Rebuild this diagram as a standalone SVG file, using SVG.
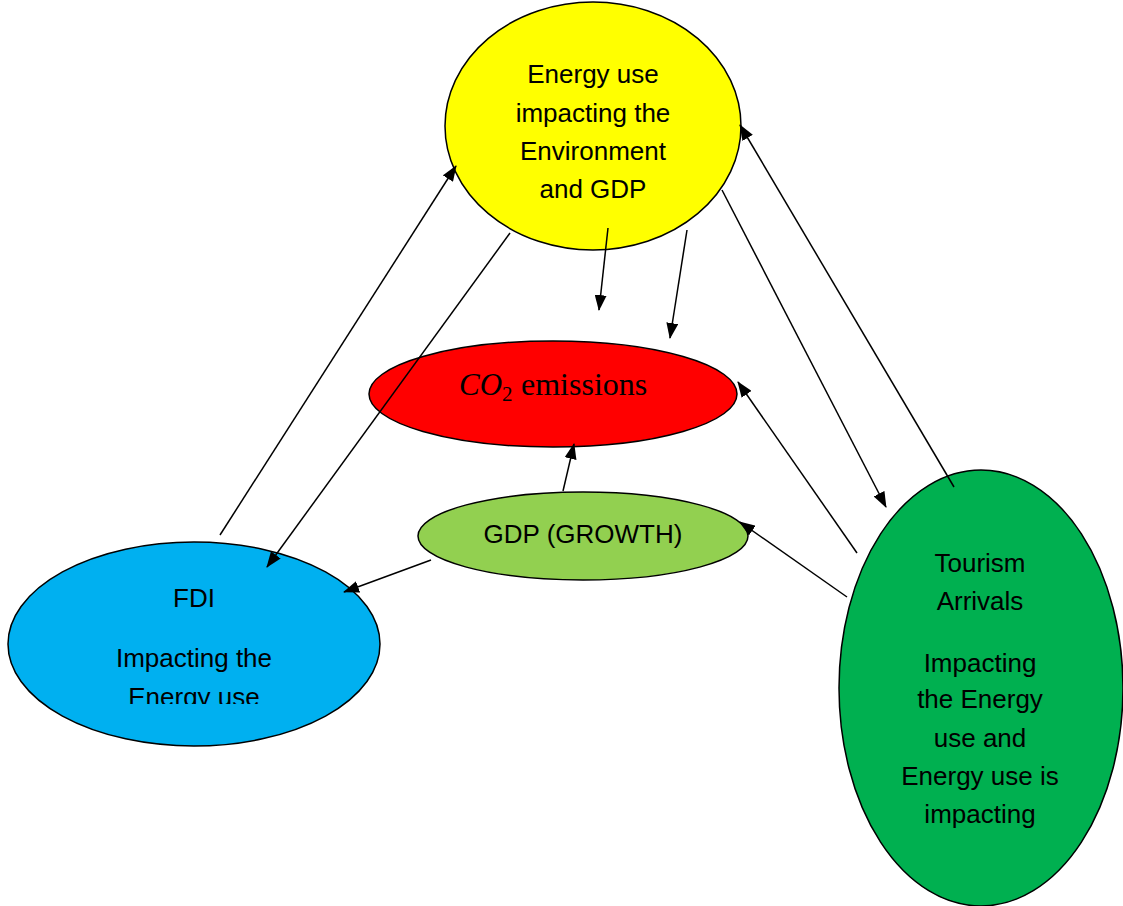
<svg xmlns="http://www.w3.org/2000/svg" width="1123" height="906" viewBox="0 0 1123 906">
<defs>
<marker id="ah" viewBox="0 0 16 12" refX="15" refY="6" markerWidth="16" markerHeight="12" markerUnits="userSpaceOnUse" orient="auto">
<path d="M0,0 L16,6 L0,12 Z" fill="#000"/>
</marker>
<clipPath id="fdiclip"><rect x="0" y="540" width="400" height="164"/></clipPath>
</defs>
<style>
.node{stroke:#000;stroke-width:1.5}
.lbl{font-family:"Liberation Sans",Arial,sans-serif;font-size:26px;fill:#000;text-anchor:middle}
.con line{stroke:#000;stroke-width:1.5;marker-end:url(#ah)}
</style>
<rect width="1123" height="906" fill="#fff"/>
<g id="yellow">
<ellipse class="node" cx="593" cy="126" rx="148" ry="124" fill="#ffff00"/>
<text class="lbl" x="593" y="83">Energy use</text>
<text class="lbl" x="593" y="122">impacting the</text>
<text class="lbl" x="593" y="160">Environment</text>
<text class="lbl" x="593" y="198">and GDP</text>
</g>
<g id="co2">
<ellipse class="node" cx="553" cy="394" rx="184" ry="53" fill="#ff0000"/>
<text font-family="'Liberation Serif','Times New Roman',serif" font-size="31" fill="#000" x="459" y="395"><tspan font-style="italic">CO</tspan><tspan font-size="21" dy="6">2</tspan><tspan x="521" dy="-6" font-size="32">emissions</tspan></text>
</g>
<g id="gdp">
<ellipse class="node" cx="583" cy="536" rx="165" ry="44" fill="#92d050"/>
<text class="lbl" x="583" y="543">GDP (GROWTH)</text>
</g>
<g id="fdi">
<ellipse class="node" cx="194" cy="644" rx="186" ry="102" fill="#00b0f0"/>
<text class="lbl" x="194" y="607">FDI</text>
<text class="lbl" x="194" y="667">Impacting the</text>
<text class="lbl" x="194" y="706" clip-path="url(#fdiclip)">Energy use</text>
</g>
<g id="tourism">
<ellipse class="node" cx="981" cy="688" rx="142" ry="218" fill="#00b050"/>
<text class="lbl" x="980" y="572">Tourism</text>
<text class="lbl" x="980" y="610">Arrivals</text>
<text class="lbl" x="980" y="672">Impacting</text>
<text class="lbl" x="980" y="708">the Energy</text>
<text class="lbl" x="980" y="747">use and</text>
<text class="lbl" x="980" y="785">Energy use is</text>
<text class="lbl" x="980" y="823">impacting</text>
</g>
<g id="connectors" class="con">
<line x1="220" y1="535" x2="456" y2="166"/>
<line x1="510" y1="233" x2="267" y2="567"/>
<line x1="608" y1="228" x2="599" y2="310"/>
<line x1="687" y1="230" x2="670" y2="338"/>
<line x1="722" y1="190" x2="886" y2="507"/>
<line x1="954" y1="487" x2="740" y2="125"/>
<line x1="857" y1="553" x2="738" y2="382"/>
<line x1="847" y1="597" x2="740" y2="522"/>
<line x1="563" y1="491" x2="574" y2="444"/>
<line x1="431" y1="560" x2="344" y2="592"/>
</g>
</svg>
